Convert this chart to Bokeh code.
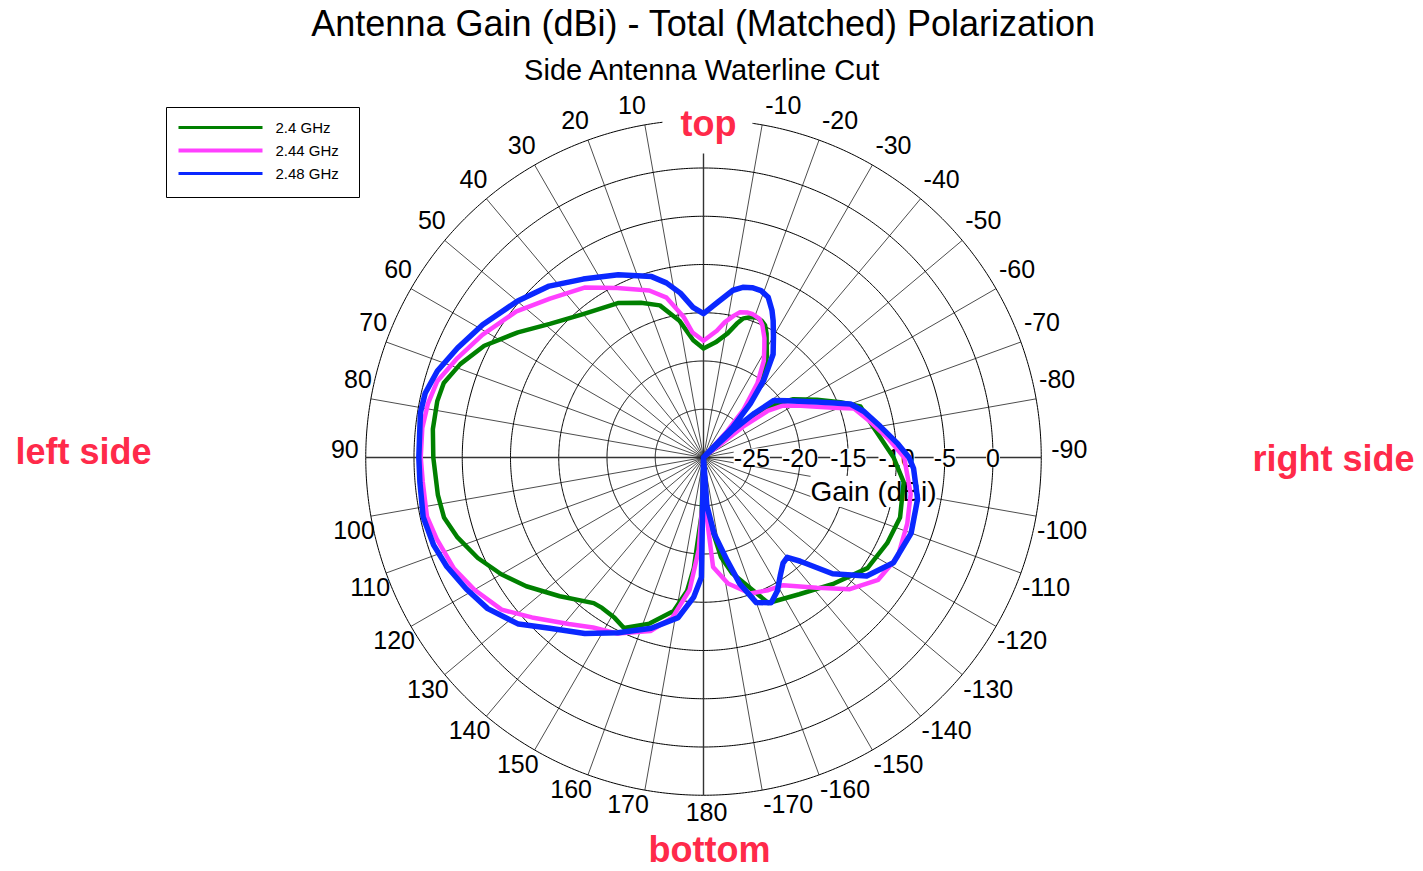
import numpy as np
from bokeh.plotting import figure
from bokeh.models import Range1d
from bokeh.embed import file_html
from bokeh.resources import INLINE
from bokeh.core.properties import value

# ---------------- data (angle in degrees, gain in dBi) ----------------
ang_24 = [-180, -176, -170, -166, -156, -145, -134, -124, -115, -107, -97, -90, -80, -72, -68, -63, -57, -54,
          -51, -47, -43, -38, -35, -32, -29, -27, -25, -23, -21, -19, -16, -14, -11, -6, 0, 5, 10, 16, 22, 29,
          40, 49, 56, 63, 69, 74, 78, 84, 90, 98, 103, 108, 114, 120, 126, 134, 143, 146, 151, 155, 162, 169,
          173, 175, 178, 180]
gain_24 = [-30, -24, -19.5, -17.6, -13.5, -12.7, -11.2, -9.5, -9.0, -8.7, -9.1, -10.3, -12.1, -12.9, -14.7,
           -16.8, -18.9, -20.5, -23.5, -30, -24.4, -21.6, -19.0, -17.6, -16.5, -15.6, -14.9, -14.6, -14.5,
           -14.6, -15.0, -15.7, -16.9, -18.0, -18.7, -17.8, -15.6, -13.6, -12.7, -11.7, -10.6, -8.9, -6.8,
           -4.5, -3.0, -2.0, -1.8, -1.8, -2.0, -2.2, -2.4, -3.2, -4.4, -5.8, -7.3, -9.3, -11.1, -11.2, -11.0,
           -10.5, -11.9, -13.8, -16.1, -18.5, -24, -30]

ang_244 = [-180, -177, -175, -169, -161, -154, -148, -139, -132, -125, -117, -108, -100, -90, -84, -78, -72,
           -69, -62, -57, -54, -52, -47, -42, -40, -36, -32, -29, -27, -24, -22, -19, -17, -14, -12, -9, -6, 0,
           5, 8, 13, 18, 27, 35, 44, 52, 61, 68, 74, 79, 84, 90, 95, 102, 107, 114, 120, 127, 133, 141, 147,
           154, 163, 169, 174, 177, 179, 180]
gain_244 = [-30, -24, -18.6, -16.7, -15.1, -14.7, -14.4, -12.1, -9.6, -7.9, -7.4, -7.8, -8.2, -9.2, -10.8,
            -12.3, -13.6, -15.6, -18.6, -20.1, -21.8, -24.8, -30, -26.3, -23.6, -20.5, -18.2, -17.0, -16.1,
            -15.0, -14.5, -14.3, -14.3, -14.5, -15.0, -15.8, -16.8, -17.9, -17.0, -15.3, -13.0, -11.8, -10.3,
            -8.5, -7.1, -5.4, -3.8, -2.5, -1.3, -0.9, -0.7, -0.7, -0.8, -0.7, -1.1, -1.7, -2.6, -3.8, -5.7,
            -7.8, -9.0, -9.7, -11.2, -13.1, -16.2, -20.4, -25.5, -30]

ang_248 = [-180, -176, -172, -167, -164, -160, -155, -151, -147, -143, -140, -137, -132, -126, -119, -110,
           -101, -93, -90, -86, -80, -74, -70, -64, -56, -51, -49, -47, -46, -44, -41, -38, -34, -30, -27, -25,
           -22, -19, -16, -13, -10, -5, 0, 4, 8, 12, 16, 25, 34, 42, 50, 59, 66, 72, 77, 81, 90, 95, 102, 108,
           113, 119, 125, 132, 138, 146, 154, 163, 171, 176, 179, 180]
gain_248 = [-30, -25, -22, -19, -16.4, -14, -13.4, -14.2, -15.4, -16.3, -16.5, -15.3, -12, -9.1, -7.5, -7.1,
            -7.4, -8.2, -8.7, -9.8, -11.4, -12.7, -13.8, -16.9, -19.5, -20.6, -23, -26, -30, -25.6, -22.6,
            -19.9, -17.1, -15.5, -14.1, -13.2, -12.1, -11.7, -11.7, -11.9, -12.4, -13.9, -15.1, -14.4, -12.8,
            -11.5, -10.5, -9.1, -7.7, -6.1, -4.8, -3.3, -2.1, -1.0, -0.4, -0.3, -0.5, -0.5, -0.3, -0.6, -1.1,
            -1.9, -2.7, -4.2, -6.2, -8.0, -9.8, -11.5, -13.2, -15.5, -17.6, -30]

series_names = ["2.4 GHz", "2.44 GHz", "2.48 GHz"]
series_colors = ["#008000", "#ff40ff", "#0a28ff"]

gain_ticks = [-25, -20, -15, -10, -5, 0]
grid_gains = [-25, -20, -15, -10, -5, 0, 5]
angle_ticks = [10, 20, 30, 40, 50, 60, 70, 80, 90, 100, 110, 120, 130, 140, 150, 160, 170, 180,
               -170, -160, -150, -140, -130, -120, -110, -100, -90, -80, -70, -60, -50, -40, -30, -20, -10]

title_text = "Antenna Gain (dBi) - Total (Matched) Polarization"
subtitle_text = "Side Antenna Waterline Cut"
radial_title = "Gain (dBi)"

# ---------------- geometry ----------------
W, H = 1423, 871
CX, CY = 703, 457          # pixel position of the pole
S = 9.65                   # pixels per dB
R_MIN, R_MAX = -30, 5
FONT = "Liberation Sans"
RED = "#ff2a4a"


def X(px):
    return (px - CX) / S


def Y(py):
    return (CY - py) / S


def polar(ang, gain):
    r = np.clip(np.asarray(gain, dtype=float) - R_MIN, 0, None)
    t = np.radians(np.asarray(ang, dtype=float))
    return -r * np.sin(t), r * np.cos(t)


p = figure(width=W, height=H, output_backend="svg", toolbar_location=None,
           x_range=Range1d(X(0), X(W)), y_range=Range1d(Y(H), Y(0)),
           x_axis_type=None, y_axis_type=None, min_border=0,
           outline_line_color=None, background_fill_color="white", border_fill_color="white")
p.grid.visible = False


def label(txt, x, y, size, align="center", style="normal", color="black", bg=None):
    kw = dict(background_fill_color=bg) if bg else {}
    p.text(x=[X(x)], y=[Y(y)], text=[txt], text_align=align, text_baseline="middle",
           text_font=value(FONT), text_font_size=size, text_font_style=style, text_color=color, **kw)


# ---------------- polar grid ----------------
tt = np.linspace(0, 360, 721)
for g in grid_gains:
    cx_, cy_ = polar(tt, np.full_like(tt, g))
    p.line(cx_, cy_, line_color="black", line_width=1)

for a in range(-170, 190, 10):
    ex, ey = polar([a], [R_MAX])
    main = a % 90 == 0
    p.segment(x0=0, y0=0, x1=ex[0], y1=ey[0], line_color="#333333" if main else "black",
              line_width=1.4 if main else 0.7)

# angle labels
R_OUT = (R_MAX - R_MIN) * S
for a in angle_ticks:
    t = np.radians(a)
    ex = CX - R_OUT * np.sin(t)
    ey = CY - R_OUT * np.cos(t)
    if a == 90:
        label(str(a), ex - 7, ey - 9, "25px", "right")
    elif a == -90:
        label(str(a), ex + 10, ey - 9, "25px", "left")
    elif a == 180:
        label(str(a), ex + 3, ey + 17, "25px", "center")
    elif 0 < a < 90:
        label(str(a), ex + 1, ey - 20, "25px", "right")
    elif -90 < a < 0:
        label(str(a), ex + 3, ey - 20, "25px", "left")
    elif a > 90:
        label(str(a), ex + 4, ey + 14, "25px", "right")
    else:
        label(str(a), ex + 1, ey + 14, "25px", "left")

# white box behind "top"
p.quad(left=X(662), right=X(752), top=Y(92), bottom=Y(153), fill_color="white", line_color=None)

# radial tick labels along -90 deg
rx, ry = polar([-90] * len(gain_ticks), gain_ticks)
p.text(x=rx, y=ry, text=[str(g) for g in gain_ticks], text_align="center", text_baseline="middle",
       text_font=value(FONT), text_font_size="25px", text_color="black",
       background_fill_color="white")
label(radial_title, 873, 491, "28px", bg="white")

# ---------------- data curves ----------------
for ang, gain, col, lw in ((ang_24, gain_24, series_colors[0], 4.5),
                           (ang_244, gain_244, series_colors[1], 4.5),
                           (ang_248, gain_248, series_colors[2], 5.5)):
    xs, ys = polar(ang, gain)
    p.line(xs, ys, line_color=col, line_width=lw, line_join="round")

# ---------------- titles & annotations ----------------
label(title_text, 703, 23, "36px")
label(subtitle_text, 702, 69, "29px")
label("top", 708, 123, "36px", style="bold", color=RED)
label("bottom", 709, 849, "36px", style="bold", color=RED)
label("left side", 15, 451, "36px", align="left", style="bold", color=RED)
label("right side", 1252, 458, "36px", align="left", style="bold", color=RED)

# ---------------- legend ----------------
p.quad(left=X(166), right=X(359), top=Y(107), bottom=Y(197), fill_color="white",
       line_color="black", line_width=1)
for i, (name, col) in enumerate(zip(series_names, series_colors)):
    yy = 127 + i * 23
    p.line([X(178), X(262)], [Y(yy), Y(yy)], line_color=col, line_width=4 if i == 1 else 3)
    label(name, 275, yy, "15px", align="left")

open("out.html", "w").write(file_html(p, INLINE))
